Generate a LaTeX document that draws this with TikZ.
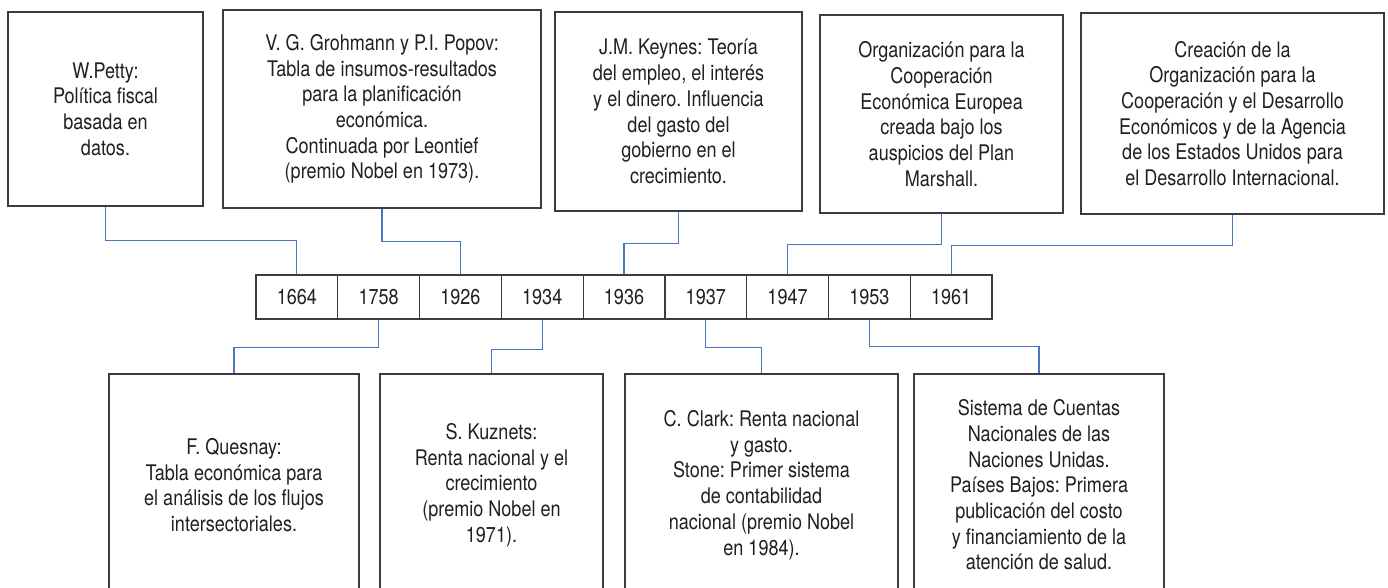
\documentclass[tikz,border=0pt]{standalone}
\usepackage{fontspec}
\setmainfont{TeX Gyre Heros}[FakeStretch=0.84]
\definecolor{linkblue}{HTML}{4A74C4}
\definecolor{boxgray}{HTML}{3C3C3C}
\definecolor{txt}{HTML}{231F20}
\frenchspacing
\begin{document}
\begin{tikzpicture}[x=1pt,y=-1pt,
  evbox/.style={draw=boxgray,line width=1.2pt,inner sep=0pt,align=center,text=txt,font=\fontsize{21.5}{25.7}\selectfont},
  yearcell/.style={draw=boxgray,line width=1.2pt,inner sep=0pt,minimum width=81.78pt,minimum height=44pt,text=txt,font=\fontsize{21.5}{25.7}\selectfont},
  link/.style={draw=linkblue,line width=1.2pt}]
\useasboundingbox (0,0) rectangle (1388,587);
\clip (0,0) rectangle (1388,587);
\fill[white] (0,0) rectangle (1388,587);

% top event boxes
\node[evbox,minimum width=195pt,minimum height=194pt] (p1) at (105.5,109) {W.Petty:\\Política fiscal\\basada en\\datos.};
\node[evbox,minimum width=318pt,minimum height=198pt] (p2) at (382,109) {V. G. Grohmann y P.I. Popov:\\Tabla de insumos-resultados\\para la planificación\\económica.\\Continuada por Leontief\\(premio Nobel en 1973).};
\node[evbox,minimum width=247pt,minimum height=199pt] (p3) at (678.5,111.5) {J.M. Keynes: Teoría\\del empleo, el interés\\y el dinero. Influencia\\del gasto del\\gobierno en el\\crecimiento.};
\node[evbox,minimum width=243pt,minimum height=198pt] (p4) at (941.5,114) {Organización para la\\Cooperación\\Económica Europea\\creada bajo los\\auspicios del Plan\\Marshall.};
\node[evbox,minimum width=303pt,minimum height=201pt] (p5) at (1232.5,113.5) {Creación de la\\Organización para la\\Cooperación y el Desarrollo\\Económicos y de la Agencia\\de los Estados Unidos para\\el Desarrollo Internacional.};

% timeline
\node[yearcell] (y1664) at (296.89,297) {1664};
\node[yearcell] (y1758) at (378.67,297) {1758};
\node[yearcell] (y1926) at (460.45,297) {1926};
\node[yearcell] (y1934) at (542.23,297) {1934};
\node[yearcell] (y1936) at (624.01,297) {1936};
\node[yearcell] (y1937) at (705.79,297) {1937};
\node[yearcell] (y1947) at (787.57,297) {1947};
\node[yearcell] (y1953) at (869.35,297) {1953};
\node[yearcell] (y1961) at (951.13,297) {1961};

% bottom event boxes
\node[evbox,minimum width=250pt,minimum height=222pt] (q1) at (234,485) {F. Quesnay:\\Tabla económica para\\el análisis de los flujos\\intersectoriales.};
\node[evbox,minimum width=223pt,minimum height=222pt] (q2) at (491.5,485) {S. Kuznets:\\Renta nacional y el\\crecimiento\\(premio Nobel en\\1971).};
\node[evbox,minimum width=273pt,minimum height=222pt] (q3) at (761.5,485) {C. Clark: Renta nacional\\y gasto.\\Stone: Primer sistema\\de contabilidad\\nacional (premio Nobel\\en 1984).};
\node[evbox,minimum width=250pt,minimum height=222pt] (q4) at (1039,485) {Sistema de Cuentas\\Nacionales de las\\Naciones Unidas.\\Países Bajos: Primera\\publicación del costo\\y financiamiento de la\\atención de salud.};

% connectors
\draw[link] (p1.south) -- ++(0,34) -| (y1664.north);
\draw[link] (p2.south) -- ++(0,33) -| (y1926.north);
\draw[link] (p3.south) -- ++(0,32) -| (y1936.north);
\draw[link] (p4.south) -- ++(0,31) -| (y1947.north);
\draw[link] (p5.south) -- ++(0,31) -| (y1961.north);
\draw[link] (y1758.south) -- ++(0,28) -| (q1.north);
\draw[link] (y1934.south) -- ++(0,30) -| (q2.north);
\draw[link] (y1937.south) -- ++(0,28) -| (q3.north);
\draw[link] (y1953.south) -- ++(0,27) -| (q4.north);
\end{tikzpicture}
\end{document}
